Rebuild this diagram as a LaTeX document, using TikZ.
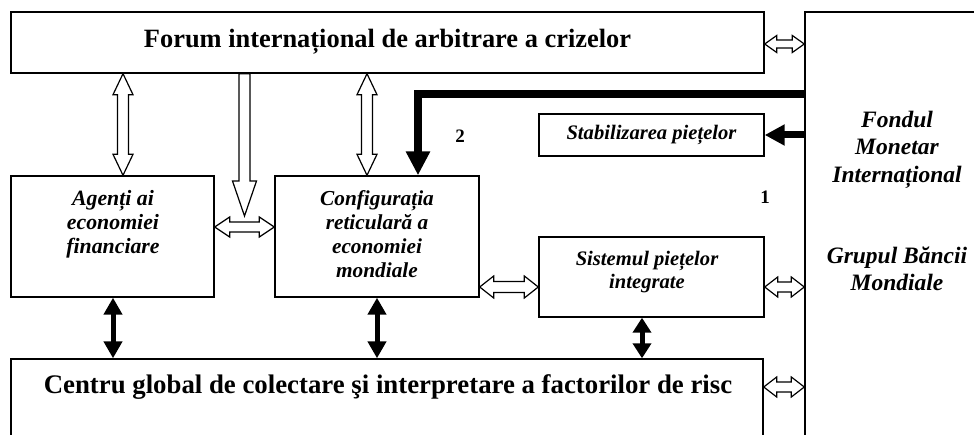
\documentclass[tikz,border=0pt]{standalone}
\usepackage{fontspec}
\setmainfont{Liberation Serif}
\usetikzlibrary{calc,arrows.meta,fit}

\begin{document}
\begin{tikzpicture}[x=1pt,y=-1pt,
  box/.style={draw, line width=1.4pt, inner sep=0pt},
  lbl/.style={inner sep=0pt, align=center},
  btxt/.style={lbl, font=\fontsize{21.3}{24}\selectfont\bfseries\itshape},
  stxt/.style={lbl, font=\fontsize{20.6}{23.5}\selectfont\bfseries\itshape},
  rtxt/.style={lbl, font=\fontsize{23.5}{27.5}\selectfont\bfseries\itshape},
  hollowboth/.style n args={3}{draw, fill=white, line width=1.2pt, line join=miter,
    to path={
      -- ($(\tikztostart)!#1!(\tikztotarget)!#2!90:(\tikztotarget)$)
      -- ($(\tikztostart)!#1!(\tikztotarget)!#3!90:(\tikztotarget)$)
      -- ($(\tikztotarget)!#1!(\tikztostart)!#3!-90:(\tikztostart)$)
      -- ($(\tikztotarget)!#1!(\tikztostart)!#2!-90:(\tikztostart)$)
      -- (\tikztotarget)
      -- ($(\tikztotarget)!#1!(\tikztostart)!#2!90:(\tikztostart)$)
      -- ($(\tikztotarget)!#1!(\tikztostart)!#3!90:(\tikztostart)$)
      -- ($(\tikztostart)!#1!(\tikztotarget)!#3!-90:(\tikztotarget)$)
      -- ($(\tikztostart)!#1!(\tikztotarget)!#2!-90:(\tikztotarget)$)
      -- cycle}},
  hollowone/.style n args={3}{draw, fill=white, line width=1.2pt, line join=miter,
    to path={
      ($(\tikztostart)!#3!90:(\tikztotarget)$)
      -- ($(\tikztotarget)!#1!(\tikztostart)!#3!-90:(\tikztostart)$)
      -- ($(\tikztotarget)!#1!(\tikztostart)!#2!-90:(\tikztostart)$)
      -- (\tikztotarget)
      -- ($(\tikztotarget)!#1!(\tikztostart)!#2!90:(\tikztostart)$)
      -- ($(\tikztotarget)!#1!(\tikztostart)!#3!90:(\tikztostart)$)
      -- ($(\tikztostart)!#3!-90:(\tikztotarget)$)
      -- cycle}},
  blackboth/.style n args={3}{line width=#1,
    {Triangle[length=#2,width=#3]}-{Triangle[length=#2,width=#3]}},
]
\useasboundingbox (0,0) rectangle (974,435);
\clip (0,0) rectangle (974,435);

% boxes
\node[box, fit={(11,12) (764,73)}] (forum) {};
\node[box, fit={(805,12) (995,470)}] (fmi) {};
\node[box, fit={(11,176) (214,297)}] (agenti) {};
\node[box, fit={(275,176) (479,297)}] (config) {};
\node[box, fit={(539,114) (764,156)}] (stab) {};
\node[box, fit={(539,237) (764,317)}] (sist) {};
\node[box, fit={(11,359) (763,470)}] (centru) {};

% texts
\node[lbl, font=\fontsize{26.4}{30}\selectfont\bfseries, anchor=base] (forumtxt) at (387.5,48)
  {Forum internațional de arbitrare a crizelor};
\node[lbl, font=\fontsize{26.8}{30}\selectfont\bfseries, anchor=base] (centrutxt) at (388,393)
  {Centru global de colectare şi interpretare a factorilor de risc};
\node[btxt, font=\fontsize{21.8}{24}\selectfont\bfseries\itshape, anchor=north] (agentitxt) at (113,188.2) {\strut Agenți ai\\economiei\\financiare};
\node[btxt, anchor=north] (configtxt) at (377,188.2) {\strut Configurația\\reticulară a\\economiei\\mondiale};
\node[stxt, anchor=north] (sisttxt) at (647,248.5) {\strut Sistemul piețelor\\integrate};
\node[stxt, anchor=base] (stabtxt) at (651.5,140) {Stabilizarea piețelor};
\node[rtxt, anchor=north] (fmitxt) at (897,107.75) {\strut Fondul\\Monetar\\Internațional};
\node[rtxt, anchor=north] (bmtxt) at (897,243.75) {\strut Grupul Băncii\\Mondiale};
\node[lbl, font=\fontsize{19}{20}\selectfont\bfseries, anchor=base] (n2) at (460,143) {2};
\node[lbl, font=\fontsize{19}{20}\selectfont\bfseries, anchor=base] (n1) at (765,204) {1};

% helper coordinates
\coordinate (xa) at (123,0);
\coordinate (xd) at (244.5,0);
\coordinate (xc) at (367,0);
\coordinate (xb) at (418,0);
\coordinate (xk1) at (113,0);
\coordinate (xk2) at (377,0);
\coordinate (xk3) at (642,0);
\coordinate (yb) at (0,94);
\coordinate (ys) at (0,135);
\coordinate (ydown) at (0,216);
\coordinate (yh1) at (0,44);
\coordinate (yh2) at (0,227);
\coordinate (yh3) at (0,287);
\coordinate (yh4) at (0,387);

% hollow arrows
\draw[hollowboth={21pt}{10pt}{5.5pt}] (forum.south -| xa) to (agenti.north -| xa);
\draw[hollowone={35pt}{12pt}{5.5pt}] (forum.south -| xd) to (xd |- ydown);
\draw[hollowboth={21pt}{10pt}{5.5pt}] (forum.south -| xc) to (config.north -| xc);
\draw[hollowboth={15pt}{10pt}{5pt}] (agenti.east |- yh2) to (config.west |- yh2);
\draw[hollowboth={12pt}{8.5pt}{4pt}] (forum.east |- yh1) to (fmi.west |- yh1);
\draw[hollowboth={14pt}{11pt}{5.5pt}] (config.east |- yh3) to (sist.west |- yh3);
\draw[hollowboth={13pt}{10pt}{5pt}] (sist.east |- yh3) to (fmi.west |- yh3);
\draw[hollowboth={13pt}{10pt}{5pt}] (centru.east |- yh4) to (fmi.west |- yh4);

% black arrows
\draw[line width=8.5pt, -{Triangle[length=24pt,width=23pt]}] (fmi.west |- yb) -| (config.north -| xb);
\draw[line width=7pt, -{Triangle[length=20pt,width=20pt]}] (fmi.west |- ys) -- (stab.east |- ys);
\draw[blackboth={5pt}{17pt}{18pt}] (agenti.south -| xk1) -- (centru.north -| xk1);
\draw[blackboth={5pt}{17pt}{18pt}] (config.south -| xk2) -- (centru.north -| xk2);
\draw[blackboth={5pt}{15pt}{18pt}] (sist.south -| xk3) -- (centru.north -| xk3);
\end{tikzpicture}
\end{document}
